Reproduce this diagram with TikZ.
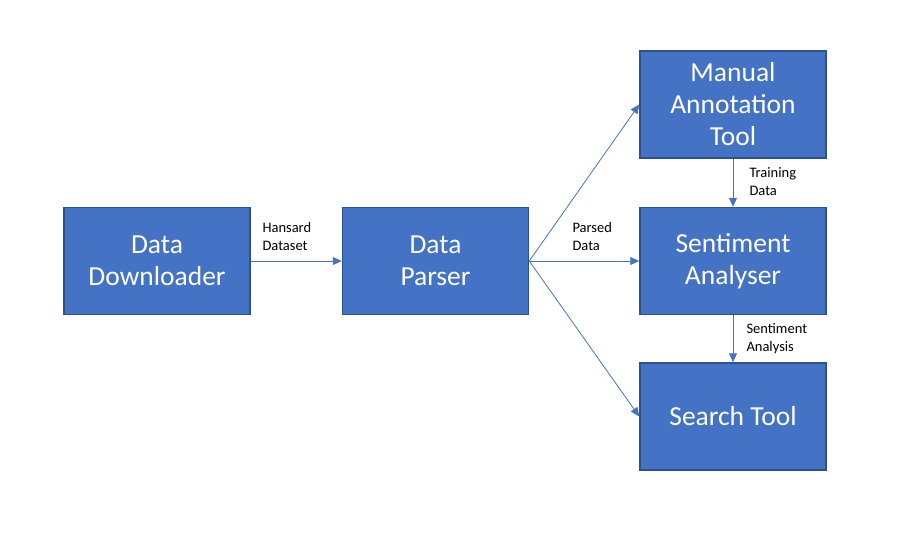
\documentclass[tikz,border=0pt]{standalone}
\usepackage{fontspec}
\setmainfont{Carlito}
\usetikzlibrary{arrows.meta}
\definecolor{boxblue}{HTML}{4472C4}
\definecolor{boxedge}{HTML}{2F528F}

\begin{document}
\begin{tikzpicture}[x=1pt,y=-1pt,
  main node/.style={rectangle,draw=boxedge,fill=boxblue,line width=1.5pt,
    minimum width=186pt,minimum height=107pt,text=white,align=center,
    font=\fontsize{27.5}{32}\selectfont},
  flow label/.style={anchor=west,align=left,font=\fontsize{14.5}{18}\selectfont},
  flow/.style={color=boxblue,line width=0.8pt,-{Triangle[length=9pt,width=8pt]}}]
  \useasboundingbox (0,0) rectangle (901,542);

  \node[main node] (down) at (157,261) {Data\\Downloader};
  \node[main node] (parse) at (435.5,261) {Data\\Parser};
  \node[main node] (annot) at (733,104.5) {Manual\\Annotation\\Tool};
  \node[main node] (senti) at (733,261) {Sentiment\\Analyser};
  \node[main node] (search) at (733,416.5) {Search Tool};

  \path[flow]
   (down) edge (parse)
   (parse.east) edge (annot.west)
   (parse.east) edge (senti.west)
   (parse.east) edge (search.west)
   (annot) edge (senti)
   (senti) edge (search);

  \node[flow label] (l1) at (259,237) {Hansard\\Dataset};
  \node[flow label] (l2) at (569,237) {Parsed\\Data};
  \node[flow label] (l3) at (746,182) {Training\\Data};
  \node[flow label] (l4) at (743,339) {Sentiment\\Analysis};
\end{tikzpicture}
\end{document}
